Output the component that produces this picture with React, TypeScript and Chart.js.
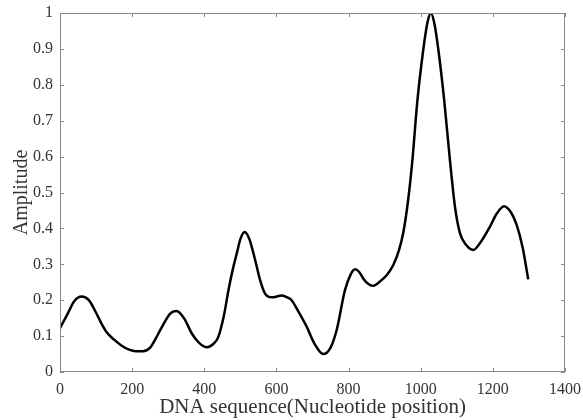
import React, { useEffect, useRef } from "react";
import { Chart, registerables } from "chart.js";

Chart.register(...registerables);

const positions = [
  0, 20, 40, 60, 80, 100, 115, 130, 150, 170, 190, 210, 230, 250, 263, 285, 305, 323, 345, 365, 385,
  407, 425, 439, 455, 467, 480, 490, 500, 512, 525, 541, 555, 568, 587, 615, 630, 642, 660, 684, 705,
  730, 750, 767, 790, 805, 818, 830, 841, 855, 867, 887, 906, 924, 940, 952, 964, 976, 991, 1007,
  1018, 1028, 1038, 1049, 1065, 1081, 1095, 1109, 1125, 1146, 1165, 1192, 1210, 1231, 1250, 1266, 1283, 1298,
];
const amplitude = [
  0.122, 0.16, 0.198, 0.21, 0.2, 0.165, 0.135, 0.11, 0.09, 0.074, 0.063, 0.058, 0.058, 0.068, 0.089, 0.13, 0.162, 0.17, 0.148, 0.108, 0.082,
  0.069, 0.078, 0.098, 0.16, 0.228, 0.29, 0.33, 0.37, 0.39, 0.37, 0.312, 0.255, 0.219, 0.208, 0.213, 0.208, 0.2, 0.17, 0.126, 0.08,
  0.05, 0.068, 0.117, 0.228, 0.27, 0.286, 0.278, 0.26, 0.245, 0.24, 0.252, 0.27, 0.298, 0.34, 0.39, 0.47, 0.58, 0.758, 0.897,
  0.97, 1.0, 0.97, 0.897, 0.758, 0.59, 0.46, 0.386, 0.355, 0.34, 0.36, 0.405, 0.44, 0.462, 0.445, 0.41, 0.345, 0.258,
];
const xTicks = [0, 200, 400, 600, 800, 1000, 1200, 1400];
const yTicks = [0, 0.1, 0.2, 0.3, 0.4, 0.5, 0.6, 0.7, 0.8, 0.9, 1];
const xTitle = "DNA sequence(Nucleotide position)";
const yTitle = "Amplitude";

const FONT = "'Liberation Serif', 'Times New Roman', serif";
const AXIS_COLOR = "#8a8a8a";
const TEXT_COLOR = "#333333";

const boxPlugin = {
  id: "matlabBox",
  afterDraw(chart: any) {
    const { ctx, chartArea, scales } = chart;
    const { left, right, top, bottom } = chartArea;
    ctx.save();
    ctx.strokeStyle = AXIS_COLOR;
    ctx.lineWidth = 1;
    ctx.beginPath();
    ctx.rect(left + 0.5, top + 0.5, right - left - 1, bottom - top - 1);
    const len = 4;
    xTicks.forEach((v) => {
      const px = Math.round(scales.x.getPixelForValue(v)) + 0.5;
      ctx.moveTo(px, bottom);
      ctx.lineTo(px, bottom - len);
      ctx.moveTo(px, top);
      ctx.lineTo(px, top + len);
    });
    yTicks.forEach((v) => {
      const py = Math.round(scales.y.getPixelForValue(v)) + 0.5;
      ctx.moveTo(left, py);
      ctx.lineTo(left + len, py);
      ctx.moveTo(right, py);
      ctx.lineTo(right - len, py);
    });
    ctx.stroke();
    ctx.restore();
  },
};

const zeroPad = (scale: any) => {
  scale.paddingTop = 0;
  scale.paddingBottom = 0;
  scale.paddingLeft = 0;
  scale.paddingRight = 0;
};

export default function App() {
  const ref = useRef<HTMLCanvasElement>(null);
  useEffect(() => {
    document.body.style.margin = "0";
    const canvas = ref.current!;
    const chart = new Chart(canvas, {
      type: "scatter",
      data: {
        datasets: [
          {
            data: positions.map((x, i) => ({ x, y: amplitude[i] })),
            showLine: true,
            borderColor: "#000000",
            borderWidth: 2.5,
            pointRadius: 0,
            cubicInterpolationMode: "monotone",
            fill: false,
          },
        ],
      },
      options: {
        animation: false,
        responsive: false,
        maintainAspectRatio: false,
        layout: { padding: { top: 13, right: 18, left: 0, bottom: 0 } },
        plugins: { legend: { display: false }, tooltip: { enabled: false } },
        scales: {
          x: {
            type: "linear",
            min: 0,
            max: 1400,
            afterBuildTicks: (scale: any) => {
              scale.ticks = xTicks.map((v) => ({ value: v }));
            },
            afterFit: (scale: any) => {
              scale.height = 48;
              zeroPad(scale);
            },
            grid: { display: false, drawTicks: false },
            border: { display: false },
            ticks: {
              color: TEXT_COLOR,
              font: { family: FONT, size: 16 },
              padding: 8,
              maxRotation: 0,
              autoSkip: false,
              callback: (v: any) => String(v),
            },
            title: {
              display: true,
              text: xTitle,
              color: TEXT_COLOR,
              font: { family: FONT, size: 21 },
              padding: { top: 0, bottom: 0 },
            },
          },
          y: {
            type: "linear",
            min: 0,
            max: 1,
            afterBuildTicks: (scale: any) => {
              scale.ticks = yTicks.map((v) => ({ value: v }));
            },
            afterFit: (scale: any) => {
              scale.width = 60;
              zeroPad(scale);
            },
            grid: { display: false, drawTicks: false },
            border: { display: false },
            ticks: {
              color: TEXT_COLOR,
              font: { family: FONT, size: 16 },
              padding: 7,
              autoSkip: false,
              callback: (v: any) => String(Number(Number(v).toFixed(1))),
            },
            title: {
              display: true,
              text: yTitle,
              color: TEXT_COLOR,
              font: { family: FONT, size: 20 },
              padding: { top: 10, bottom: 0 },
            },
          },
        },
      },
      plugins: [boxPlugin],
    });
    return () => chart.destroy();
  }, []);
  return (
    <div style={{ width: 583, height: 420 }}>
      <canvas ref={ref} width={583} height={420} />
    </div>
  );
}
